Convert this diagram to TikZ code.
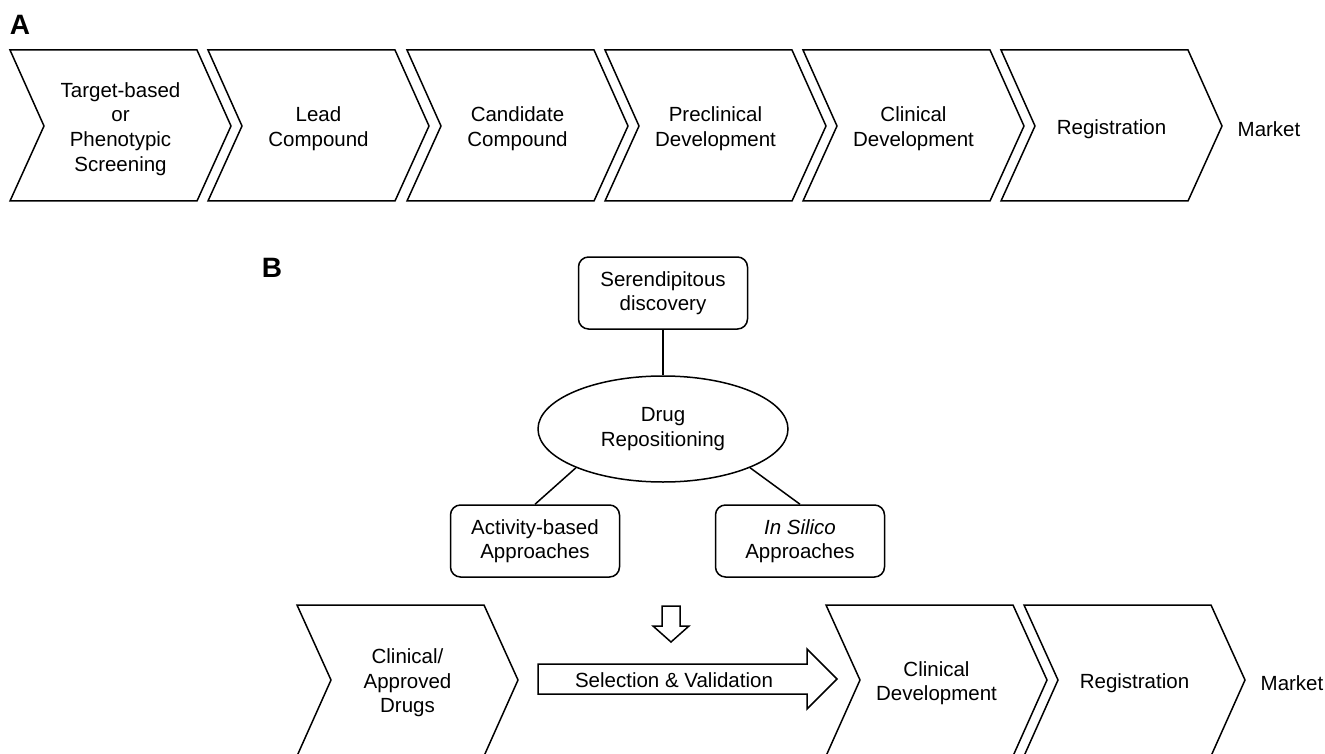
\documentclass[tikz,border=0pt]{standalone}
\usepackage{fontspec}
\setmainfont{Liberation Sans}
\usetikzlibrary{positioning}
\usetikzlibrary{shapes.geometric}

\begin{document}
\begin{tikzpicture}
		[x=1pt, y=-1pt, line width=1.5pt, line join=miter,
		 stage/.style={align=center, font=\fontsize{20.5}{24.6}\selectfont},
		 steptext/.style={stage, yshift=-3pt},
		 box/.style={stage, draw, rounded corners=10pt, minimum width=169pt, minimum height=72pt},
		 panel/.style={font=\fontsize{28}{30}\selectfont\bfseries}]
		\useasboundingbox (0,0) rectangle (1325,754);
		\node[panel] (A) at (20,25) {A};
		\node[panel] (B) at (272,268) {B};
		\foreach \x/\txt [count=\i] in {10/{Target-based\\or\\Phenotypic\\Screening}, 208/{Lead\\Compound},
			407/{Candidate\\Compound}, 605/{Preclinical\\Development}, 803/{Clinical\\Development}, 1001/{Registration}}
		{
			\draw (\x,50) -- ++(187,0) -- ++(34,76) -- ++(-34,75) -- ++(-187,0) -- ++(34,-75) -- cycle;
			\node[steptext] (a\i) at (\x+110.5,126) {\txt};
		}
		\node[steptext] (amarket) at (1269,126) {Market};
		\node[box] (ser) at (663,293) {Serendipitous\\discovery};
		\node[stage, draw, ellipse, inner sep=0pt, minimum width=250pt, minimum height=106pt] (dr) at (663,429) {Drug\\Repositioning};
		\node[box] (act) at (535,541) {Activity-based\\Approaches};
		\node[box] (sil) at (800,541) {\textit{In Silico}\\Approaches};
		\draw (ser) -- (dr);
		\draw (dr.204) -- (act.north);
		\draw (dr.336) -- (sil.north);
		\draw (662,606) -- (680,606) -- (680,626) -- (689,626) -- (671,642) -- (653,626) -- (662,626) -- cycle;
		\foreach \x/\txt [count=\i] in {297/{Clinical/\\Approved\\Drugs}, 826/{Clinical\\Development}, 1024/{Registration}}
		{
			\draw (\x,605) -- ++(187,0) -- ++(34,75) -- ++(-34,76) -- ++(-187,0) -- ++(34,-76) -- cycle;
			\node[steptext] (b\i) at (\x+110.5,680) {\txt};
		}
		\node[stage] (sel) at (674,680) {Selection \& Validation};
		\draw (538,664) -- (807,664) -- (807,649) -- (837,679) -- (807,709) -- (807,694) -- (538,694) -- cycle;
		\node[steptext] (bmarket) at (1292,680) {Market};
	\end{tikzpicture}
\end{document}
